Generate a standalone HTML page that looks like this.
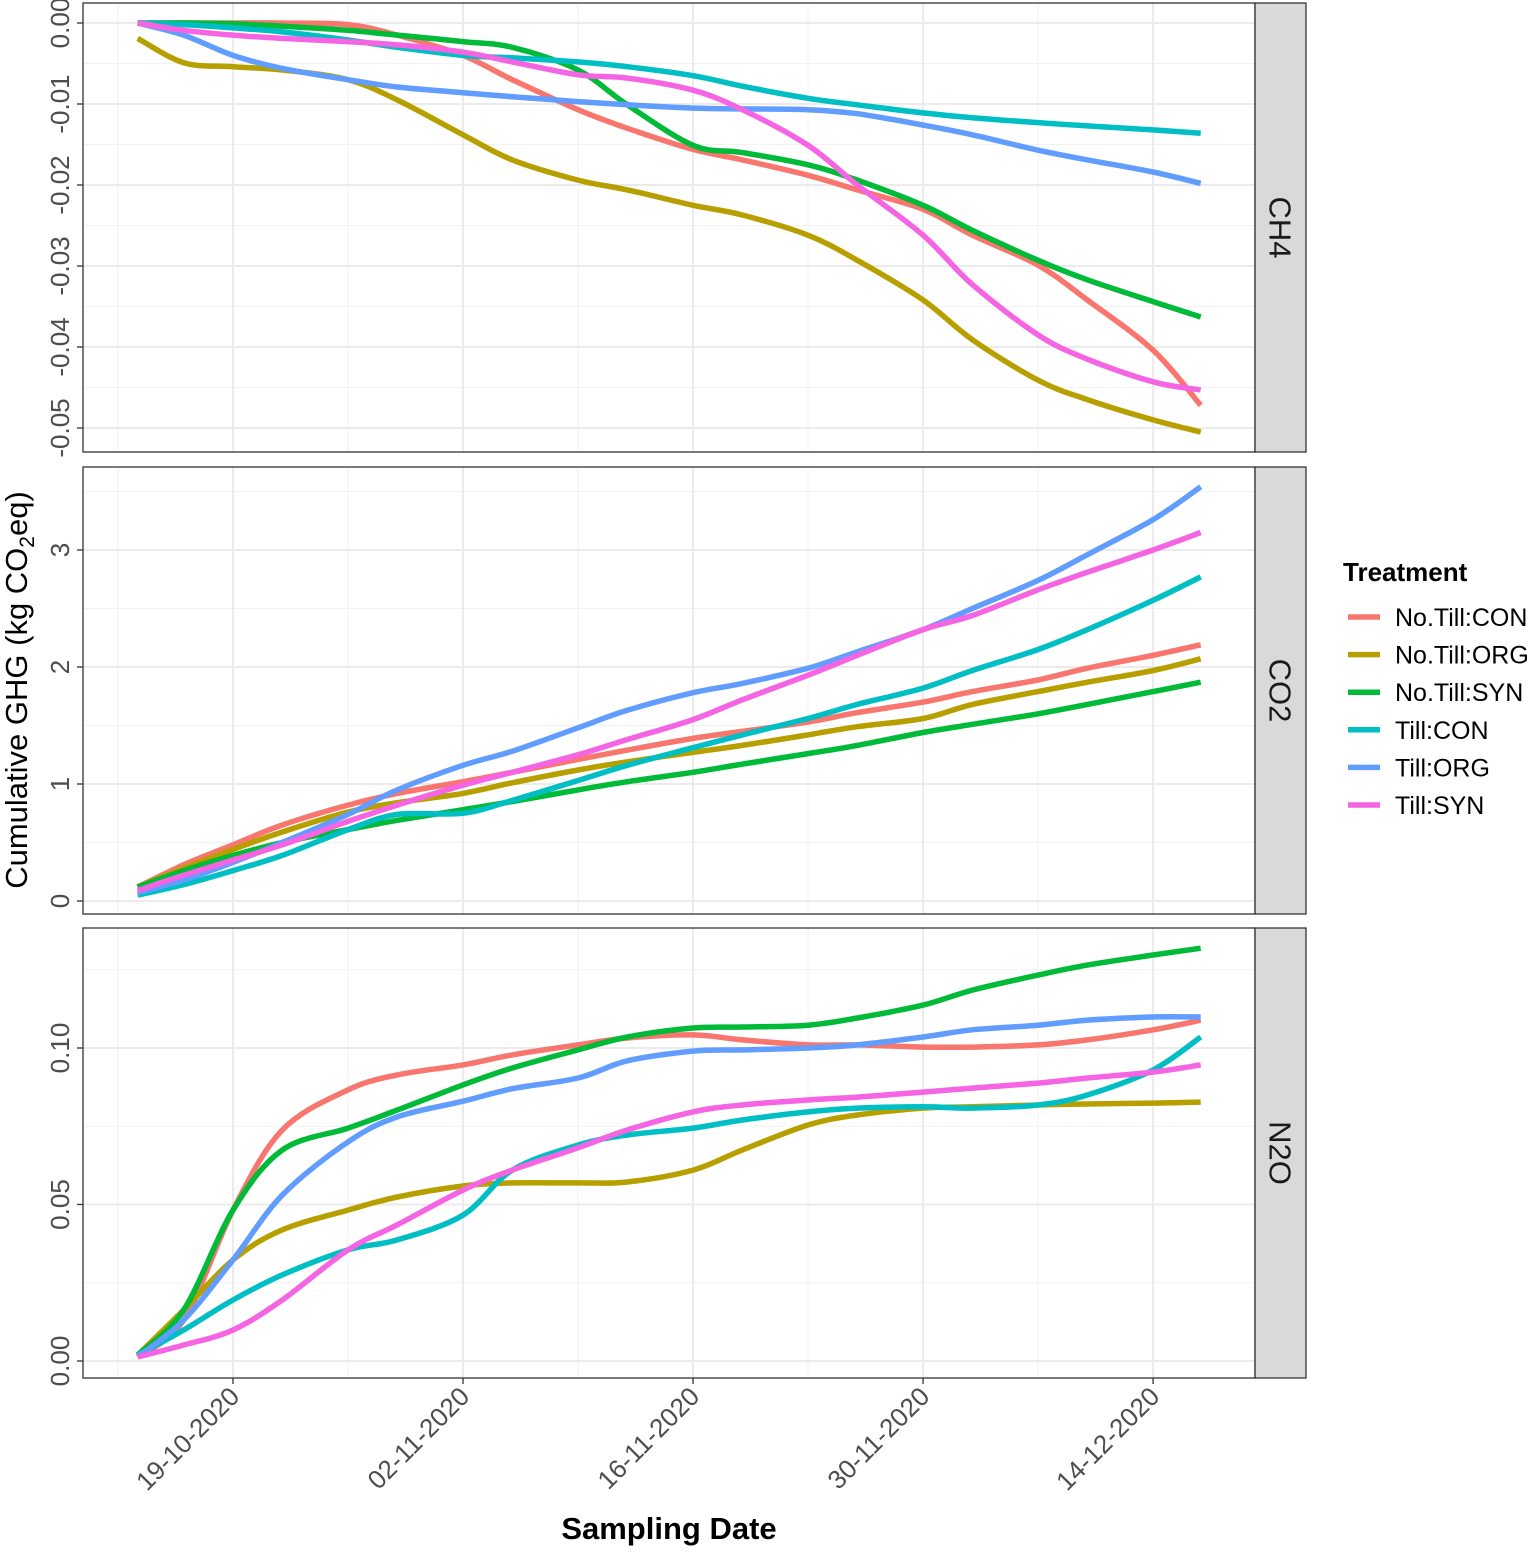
<!DOCTYPE html>
<html><head><meta charset="utf-8"><style>
html,body{margin:0;padding:0;background:#fff;}
svg text{font-family:"Liberation Sans",Arial,sans-serif;}
</style></head><body>
<svg id="chart" width="1535" height="1549" viewBox="0 0 1535 1549" xmlns="http://www.w3.org/2000/svg"></svg>
<script>
const days=[-5.8,-3,0,3,7,10,14,17,21,24,28,31,35,38,42,45,49,52,56,58.9];
const treatments=["No.Till:CON","No.Till:ORG","No.Till:SYN","Till:CON","Till:ORG","Till:SYN"];
const colors=["#F8766D","#B79F00","#00BA38","#00BFC4","#619CFF","#F564E3"];
const xTickLabels=["19-10-2020","02-11-2020","16-11-2020","30-11-2020","14-12-2020"];
const xTickDays=[0,14,28,42,56];
const ch4NoTillCON=[0,0,0,0,-0.0002,-0.0015,-0.004,-0.007,-0.0107,-0.013,-0.0156,-0.0169,-0.0188,-0.0206,-0.023,-0.0262,-0.0299,-0.0342,-0.0404,-0.0472];
const ch4NoTillORG=[-0.0019,-0.0049,-0.0054,-0.0058,-0.007,-0.0095,-0.0138,-0.0169,-0.0194,-0.0206,-0.0225,-0.0237,-0.0262,-0.0293,-0.0342,-0.0391,-0.0441,-0.0465,-0.049,-0.0505];
const ch4NoTillSYN=[0,0,-0.0001,-0.0004,-0.0009,-0.0015,-0.0023,-0.003,-0.0058,-0.0101,-0.0151,-0.016,-0.0175,-0.0194,-0.0225,-0.0256,-0.0293,-0.0317,-0.0344,-0.0363];
const ch4TillCON=[0,-0.0002,-0.0006,-0.0011,-0.0021,-0.003,-0.004,-0.0043,-0.0048,-0.0054,-0.0065,-0.0078,-0.0093,-0.0101,-0.0111,-0.0117,-0.0123,-0.0127,-0.0132,-0.0136];
const ch4TillORG=[0,-0.0015,-0.004,-0.0056,-0.007,-0.0079,-0.0086,-0.0091,-0.0097,-0.0101,-0.0105,-0.0106,-0.0107,-0.0112,-0.0126,-0.0138,-0.0157,-0.0169,-0.0184,-0.0198];
const ch4TillSYN=[0,-0.0009,-0.0015,-0.0019,-0.0023,-0.0027,-0.0036,-0.0048,-0.0064,-0.0068,-0.0083,-0.0107,-0.0151,-0.02,-0.0262,-0.0323,-0.0385,-0.0415,-0.0443,-0.0453];
const co2NoTillCON=[.12,.31,.48,.65,.82,.92,1.02,1.10,1.21,1.29,1.39,1.45,1.53,1.61,1.70,1.79,1.89,1.99,2.10,2.19];
const co2NoTillORG=[.12,.28,.44,.59,.76,.84,.92,1.01,1.12,1.19,1.27,1.33,1.42,1.49,1.56,1.68,1.79,1.87,1.97,2.07];
const co2NoTillSYN=[.12,.26,.39,.50,.61,.69,.78,.85,.95,1.02,1.10,1.17,1.26,1.33,1.44,1.51,1.60,1.68,1.79,1.87];
const co2TillCON=[.05,.14,.26,.39,.61,.74,.75,.86,1.03,1.16,1.31,1.42,1.56,1.68,1.82,1.97,2.15,2.32,2.57,2.77];
const co2TillORG=[.07,.18,.33,.50,.74,.95,1.16,1.28,1.48,1.63,1.78,1.86,1.99,2.13,2.32,2.50,2.74,2.96,3.26,3.54];
const co2TillSYN=[.09,.22,.35,.48,.68,.82,.99,1.10,1.25,1.38,1.55,1.72,1.93,2.10,2.32,2.44,2.66,2.81,3.00,3.15];
const n2oNoTillCON=[.0013,.0131,.0482,.0738,.0866,.0914,.0946,.0978,.1010,.1032,.1042,.1026,.1010,.1010,.1003,.1003,.1010,.1026,.1058,.1089];
const n2oNoTillORG=[.0019,.0163,.0323,.0419,.0482,.0524,.0559,.0569,.0569,.0572,.0610,.0674,.0754,.0786,.0808,.0812,.0818,.0821,.0824,.0827];
const n2oNoTillSYN=[.0019,.0163,.0482,.0674,.0744,.0802,.0882,.0936,.0994,.1035,.1064,.1067,.1073,.1096,.1137,.1185,.1233,.1265,.1297,.1319];
const n2oTillCON=[.0019,.0099,.0195,.0275,.0355,.0387,.0466,.0610,.0690,.0722,.0744,.0770,.0796,.0808,.0812,.0808,.0818,.0850,.0930,.1035];
const n2oTillORG=[.0013,.0131,.0323,.0530,.0700,.0780,.0830,.0870,.0904,.0959,.0990,.0994,.1000,.1010,.1035,.1058,.1073,.1089,.1099,.1099];
const n2oTillSYN=[.0013,.0051,.0099,.0195,.0355,.0435,.0546,.0610,.0681,.0738,.0796,.0818,.0834,.0843,.0859,.0872,.0888,.0904,.0923,.0946];
const ch4Ticks=[0,-0.01,-0.02,-0.03,-0.04,-0.05];
const ch4TickLabels=["0.00","-0.01","-0.02","-0.03","-0.04","-0.05"];
const co2Ticks=[0,1,2,3];
const co2TickLabels=["0","1","2","3"];
const n2oTicks=[0,0.05,0.10];
const n2oTickLabels=["0.00","0.05","0.10"];

const NS="http://www.w3.org/2000/svg";
const svg=document.getElementById("chart");
function mk(tag,attrs,parent){const e=document.createElementNS(NS,tag);for(const k in attrs)e.setAttribute(k,attrs[k]);(parent||svg).appendChild(e);return e;}
const X0=83,X1=1255;
function xScale(d){return 233+d*16.43;}
const panels=[
 {name:"CH4",top:3,bot:452,y:v=>23-v*8100,ticks:ch4Ticks,labels:ch4TickLabels,minor:[0.005,-0.005,-0.015,-0.025,-0.035,-0.045],series:[ch4NoTillCON,ch4NoTillORG,ch4NoTillSYN,ch4TillCON,ch4TillORG,ch4TillSYN]},
 {name:"CO2",top:467,bot:914,y:v=>901-v*117,ticks:co2Ticks,labels:co2TickLabels,minor:[0.5,1.5,2.5,3.5],series:[co2NoTillCON,co2NoTillORG,co2NoTillSYN,co2TillCON,co2TillORG,co2TillSYN]},
 {name:"N2O",top:928,bot:1378,y:v=>1361-v*3130,ticks:n2oTicks,labels:n2oTickLabels,minor:[0.025,0.075,0.125],series:[n2oNoTillCON,n2oNoTillORG,n2oNoTillSYN,n2oTillCON,n2oTillORG,n2oTillSYN]}
];
function smooth(pts){let d="M"+pts[0][0]+","+pts[0][1];for(let i=0;i<pts.length-1;i++){const p0=pts[Math.max(0,i-1)],p1=pts[i],p2=pts[i+1],p3=pts[Math.min(pts.length-1,i+2)];const c1=[p1[0]+(p2[0]-p0[0])/6,p1[1]+(p2[1]-p0[1])/6],c2=[p2[0]-(p3[0]-p1[0])/6,p2[1]-(p3[1]-p1[1])/6];d+=" C"+c1[0].toFixed(1)+","+c1[1].toFixed(1)+" "+c2[0].toFixed(1)+","+c2[1].toFixed(1)+" "+p2[0].toFixed(1)+","+p2[1].toFixed(1);}return d;}
panels.forEach((p,pi)=>{
  const g=mk("g",{});
  
  
  mk("rect",{x:X0,y:p.top,width:X1-X0,height:p.bot-p.top,fill:"#fff"},g);
  p.minor.forEach(v=>{const y=p.y(v);if(y>p.top&&y<p.bot)mk("line",{x1:X0,x2:X1,y1:y,y2:y,stroke:"#F2F2F2","stroke-width":1},g);});
  [-7,7,21,35,49].forEach(d=>mk("line",{x1:xScale(d),x2:xScale(d),y1:p.top,y2:p.bot,stroke:"#F2F2F2","stroke-width":1},g));
  p.ticks.forEach(v=>{const y=p.y(v);mk("line",{x1:X0,x2:X1,y1:y,y2:y,stroke:"#EBEBEB","stroke-width":2},g);});
  xTickDays.forEach(d=>mk("line",{x1:xScale(d),x2:xScale(d),y1:p.top,y2:p.bot,stroke:"#EBEBEB","stroke-width":2},g));
  p.series.forEach((s,si)=>{
    const pts=s.map((v,i)=>[xScale(days[i]),p.y(v)]);
    const path=mk("path",{d:smooth(pts),fill:"none",stroke:colors[si],"stroke-width":5.5,"stroke-linecap":"butt"},g);
    
    
  });
  mk("rect",{x:X0,y:p.top,width:X1-X0,height:p.bot-p.top,fill:"none",stroke:"#333","stroke-width":1.3},g);
  const strip=mk("rect",{x:X1,y:p.top,width:51,height:p.bot-p.top,fill:"#D9D9D9",stroke:"#333","stroke-width":1.3},g);
  
  
  const cy=(p.top+p.bot)/2;
  const st=mk("text",{x:1280,y:cy,transform:"rotate(90 1280 "+cy+")","text-anchor":"middle","dominant-baseline":"central","font-size":31,fill:"#1A1A1A"},g);
  st.textContent=p.name;
  
  
  p.ticks.forEach((v,i)=>{const y=p.y(v);
    mk("line",{x1:77,x2:X0,y1:y,y2:y,stroke:"#333","stroke-width":1.3},g);
    const t=mk("text",{x:69,y:y,transform:"rotate(-90 69 "+y+")","text-anchor":"middle","font-size":26,fill:"#4D4D4D"},g);
    t.textContent=p.labels[i];
    
    
  });
});
xTickDays.forEach((d,i)=>{const x=xScale(d);
  mk("line",{x1:x,x2:x,y1:1378,y2:1384,stroke:"#333","stroke-width":1.3});
  const t=mk("text",{x:x+8,y:1398,transform:"rotate(-45 "+(x+8)+" 1398)","text-anchor":"end","font-size":26,fill:"#4D4D4D"});
  t.textContent=xTickLabels[i];
  
  
});
const xt=mk("text",{x:669,y:1539,"text-anchor":"middle","font-size":31,"font-weight":"bold",fill:"#000"});
xt.textContent="Sampling Date";


const yt=mk("text",{x:27,y:690,transform:"rotate(-90 27 690)","text-anchor":"middle","font-size":31,fill:"#000"});
yt.innerHTML='Cumulative GHG (kg CO<tspan font-size="21" dy="7">2</tspan><tspan dy="-7">eq)</tspan>';


const lg=mk("g",{});


const lt=mk("text",{x:1343,y:581,"font-size":26,"font-weight":"bold",fill:"#000"},lg);
lt.textContent="Treatment";


treatments.forEach((tr,i)=>{const y=617+i*37.6;
  const e=mk("g",{},lg);
  
  
  mk("line",{x1:1348,x2:1380,y1:y,y2:y,stroke:colors[i],"stroke-width":5.5},e);
  const t=mk("text",{x:1395,y:y+9,"font-size":25,fill:"#000"},e);
  t.textContent=tr;
});
</script>
</body></html>
